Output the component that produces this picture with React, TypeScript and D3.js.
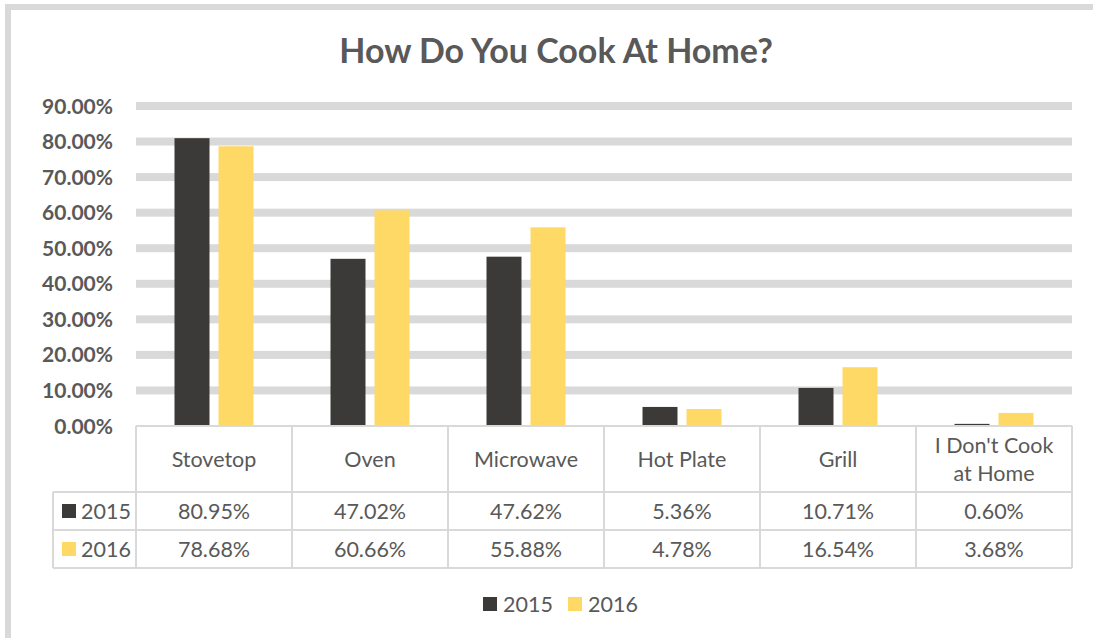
import React from "react";
import * as d3 from "d3";

const categories = ["Stovetop", "Oven", "Microwave", "Hot Plate", "Grill", "I Don't Cook at Home"];
const categoryLines = [["Stovetop"], ["Oven"], ["Microwave"], ["Hot Plate"], ["Grill"], ["I Don't Cook", "at Home"]];
const seriesNames = ["2015", "2016"];
const values2015 = [0.8095, 0.4702, 0.4762, 0.0536, 0.1071, 0.006];
const values2016 = [0.7868, 0.6066, 0.5588, 0.0478, 0.1654, 0.0368];
const yTicks = [0, 0.1, 0.2, 0.3, 0.4, 0.5, 0.6, 0.7, 0.8, 0.9];
const colors = ["#3b3a38", "#ffd966"];
const title = "How Do You Cook At Home?";

const W = 1093;
const H = 638;
const FONT = "Lato, 'Open Sans', sans-serif";
const TEXT = "#595959";
const GRID = "#d9d9d9";

export default function App() {
  const plotLeft = 136;
  const plotRight = 1072;
  const y0 = 426;
  const yTop = 106;
  const rowCat = 492;
  const row1 = 530;
  const row2 = 568;
  const legendColLeft = 53;

  const x = d3.scaleBand<string>().domain(categories).range([plotLeft, plotRight]).paddingInner(0).paddingOuter(0);
  const xi = d3.scaleBand<string>().domain(seriesNames).range([0, x.bandwidth()]).paddingInner(0.2045).paddingOuter(0.875);
  const y = d3.scaleLinear().domain([0, 0.9]).range([y0, yTop]);
  const series = [values2015, values2016];
  const fmt = d3.format(".2%");

  const rowYs = [rowCat, row1, row2];
  const FS = 21.5;

  return (
    <div style={{ position: "absolute", left: 0, top: 0 }}>
      <svg width={W} height={H} style={{ display: "block", background: "#fff" }}>
        {/* frame */}
        <rect x={5} y={4} width={W} height={6} fill={GRID} />
        <rect x={5} y={4} width={6} height={H} fill={GRID} />

        <text x={556} y={63} textAnchor="middle" fontFamily={FONT} fontWeight="bold" fontSize={34} fill={TEXT}>
          {title}
        </text>

        {/* gridlines */}
        {yTicks.filter((t) => t > 0).map((t) => (
          <rect key={t} x={plotLeft} y={y(t) - 4} width={plotRight - plotLeft} height={8} fill={GRID} />
        ))}
        {yTicks.map((t) => (
          <text key={"l" + t} x={113} y={y(t)} dy="0.36em" textAnchor="end" fontFamily={FONT} fontWeight="bold" fontSize={21} fill={TEXT}>
            {fmt(t)}
          </text>
        ))}

        {/* bars */}
        {categories.map((c, i) => (
          <g key={c}>
            {seriesNames.map((s, k) => (
              <rect
                key={s}
                x={(x(c) as number) + (xi(s) as number)}
                y={y(series[k][i])}
                width={xi.bandwidth()}
                height={y0 - y(series[k][i])}
                fill={colors[k]}
              />
            ))}
          </g>
        ))}

        {/* table */}
        <g stroke={GRID} strokeWidth={2} fill="none">
          <line x1={plotLeft} x2={plotRight} y1={y0} y2={y0} />
          {rowYs.map((ry) => (
            <line key={ry} x1={legendColLeft} x2={plotRight} y1={ry} y2={ry} />
          ))}
          <line x1={legendColLeft} x2={legendColLeft} y1={rowCat} y2={row2} />
          {categories.map((c) => (
            <line key={c} x1={x(c) as number} x2={x(c) as number} y1={y0} y2={row2} />
          ))}
          <line x1={plotRight} x2={plotRight} y1={y0} y2={row2} />
        </g>

        {categories.map((c, i) => {
          const cx = (x(c) as number) + x.bandwidth() / 2;
          const lines = categoryLines[i];
          const mid = (y0 + rowCat) / 2;
          return (
            <g key={"t" + c}>
              {lines.map((ln, j) => (
                <text key={j} x={cx} y={mid + (j - (lines.length - 1) / 2) * 28} dy="0.35em" textAnchor="middle" fontFamily={FONT} fontSize={FS} fill={TEXT}>
                  {ln}
                </text>
              ))}
              {series.map((vals, k) => (
                <text key={k} x={cx} y={(rowYs[k] + rowYs[k + 1]) / 2} dy="0.35em" textAnchor="middle" fontFamily={FONT} fontSize={FS} fill={TEXT}>
                  {fmt(vals[i])}
                </text>
              ))}
            </g>
          );
        })}

        {seriesNames.map((s, k) => {
          const cy = (rowYs[k] + rowYs[k + 1]) / 2;
          return (
            <g key={"k" + s}>
              <rect x={62} y={cy - 7} width={14} height={14} fill={colors[k]} />
              <text x={81} y={cy} dy="0.35em" fontFamily={FONT} fontSize={FS} fill={TEXT}>
                {s}
              </text>
            </g>
          );
        })}

        {/* legend */}
        {seriesNames.map((s, k) => (
          <g key={"lg" + s} transform={`translate(${483 + k * 85},604)`}>
            <rect x={0} y={-7} width={14} height={14} fill={colors[k]} />
            <text x={20} y={0} dy="0.35em" fontFamily={FONT} fontSize={FS} fill={TEXT}>
              {s}
            </text>
          </g>
        ))}
      </svg>
    </div>
  );
}
